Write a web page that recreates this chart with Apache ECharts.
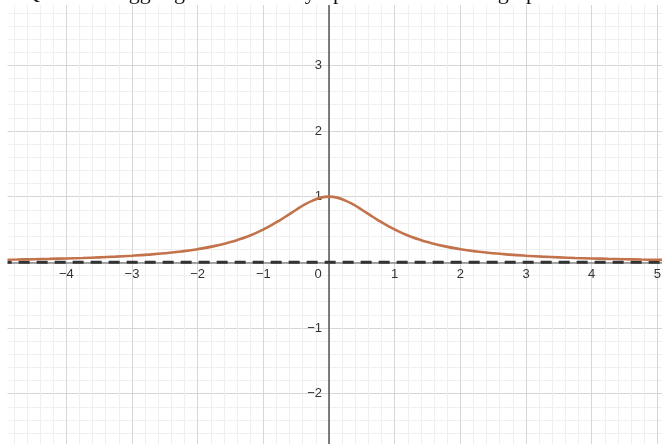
<!DOCTYPE html>
<html>
<head>
<meta charset="utf-8">
<script src="https://cdn.jsdelivr.net/npm/echarts@6/dist/echarts.min.js"></script>
<style>
  html, body { margin: 0; padding: 0; background: #fff; }
  #chart { width: 662px; height: 444px; }
</style>
</head>
<body>
<div id="chart"></div>
<script>
// Curve y = 1/(1+x^2): sampled every 0.25, finer near the peak
const curveX = [-5, -4.75, -4.5, -4.25, -4, -3.75, -3.5, -3.25, -3, -2.75, -2.5, -2.25, -2, -1.75, -1.5,
  -1.375, -1.25, -1.125, -1, -0.875, -0.75, -0.625, -0.5, -0.375, -0.25, -0.125,
  0, 0.125, 0.25, 0.375, 0.5, 0.625, 0.75, 0.875, 1, 1.125, 1.25, 1.375,
  1.5, 1.75, 2, 2.25, 2.5, 2.75, 3, 3.25, 3.5, 3.75, 4, 4.25, 4.5, 4.75, 5, 5.25];
const curveY = [0.038, 0.042, 0.047, 0.052, 0.059, 0.066, 0.075, 0.086, 0.10, 0.117, 0.138, 0.165, 0.20, 0.246, 0.308,
  0.346, 0.39, 0.441, 0.50, 0.566, 0.64, 0.719, 0.80, 0.877, 0.94, 0.985,
  1.00, 0.985, 0.94, 0.877, 0.80, 0.719, 0.64, 0.566, 0.50, 0.441, 0.39, 0.346,
  0.308, 0.246, 0.20, 0.165, 0.138, 0.117, 0.10, 0.086, 0.075, 0.066, 0.059, 0.052, 0.047, 0.042, 0.038, 0.035];

// Horizontal asymptote y = 0
const asymX = [-5, 5.25];
const asymY = [0, 0];

// Axis ranges and tick labels
const xRange = [-5, 6];
const yRange = [-3, 4];
const xTickLabels = [-4, -3, -2, -1, 0, 1, 2, 3, 4, 5];
const yTickLabels = [-2, -1, 1, 2, 3];

const heading = "Q3. I'm struggling to find the asymptote of this curve graph";

const U = 65.67;          // pixels per unit
const originX = 329;
const originY = 262.3;

const fmtNum = v => (v < 0 ? '\u2212' + Math.abs(v) : String(v));
const labelFont = 'Liberation Sans, Arial, sans-serif';

const chart = echarts.init(document.getElementById('chart'), null, { renderer: 'canvas' });

chart.setOption({
  backgroundColor: '#ffffff',
  animation: false,
  grid: {
    left: originX + xRange[0] * U,
    top: originY - yRange[1] * U,
    width: (xRange[1] - xRange[0]) * U,
    height: (yRange[1] - yRange[0]) * U,
    containLabel: false,
    outerBoundsMode: 'none'
  },
  xAxis: {
    type: 'value',
    position: 'bottom',
    offset: yRange[0] * U,   // lift the axis up to y = 0
    min: xRange[0], max: xRange[1], interval: 1,
    axisLine: { onZero: false, lineStyle: { color: '#8a8a8a', width: 1.5 } },
    axisTick: { show: false },
    axisLabel: {
      margin: 6,
      color: '#333',
      fontFamily: labelFont,
      fontSize: 13,
      showMinLabel: false,
      formatter: v => {
        if (!xTickLabels.includes(v)) return '';
        if (v === 0) return '{z|0}';
        return fmtNum(v);
      },
      rich: { z: { padding: [0, 22, 0, 0], color: '#333', fontSize: 13, fontFamily: labelFont } }
    },
    splitLine: { show: true, lineStyle: { color: '#d6d6d6', width: 1 } },
    minorTick: { show: false, splitNumber: 5 },
    minorSplitLine: { show: true, lineStyle: { color: '#efefef', width: 1 } }
  },
  yAxis: {
    type: 'value',
    position: 'left',
    offset: xRange[0] * U,   // shift the axis right to x = 0
    min: yRange[0], max: yRange[1], interval: 1,
    axisLine: { onZero: false, lineStyle: { color: '#555', width: 1.5 } },
    axisTick: { show: false },
    axisLabel: {
      margin: 7,
      color: '#333',
      fontFamily: labelFont,
      fontSize: 13,
      formatter: v => (yTickLabels.includes(v) ? fmtNum(v) : '')
    },
    splitLine: { show: true, lineStyle: { color: '#d6d6d6', width: 1 } },
    minorTick: { show: false, splitNumber: 5 },
    minorSplitLine: { show: true, lineStyle: { color: '#efefef', width: 1 } }
  },
  series: [
    {
      type: 'line',
      data: asymX.map((x, i) => [x, asymY[i]]),
      symbol: 'none',
      lineStyle: { color: '#333', width: 3, type: [11, 7] },
      z: 3
    },
    {
      type: 'line',
      data: curveX.map((x, i) => [x, curveY[i]]),
      symbol: 'none',
      smooth: 0.5,
      lineStyle: { color: '#c2734c', width: 2.6 },
      z: 4
    }
  ],
  graphic: [
    { type: 'rect', left: 0, top: 0, z: 100, shape: { width: 7.5, height: 444 }, style: { fill: '#fff' } },
    { type: 'rect', left: 0, top: 0, z: 100, shape: { width: 662, height: 5 }, style: { fill: '#fff' } },
    {
      type: 'text', x: 24, y: 4, z: 101,
      style: {
        text: heading,
        fill: '#111',
        font: '22px "Liberation Serif", "Times New Roman", serif',
        verticalAlign: 'bottom'
      }
    }
  ]
});
</script>
</body>
</html>
